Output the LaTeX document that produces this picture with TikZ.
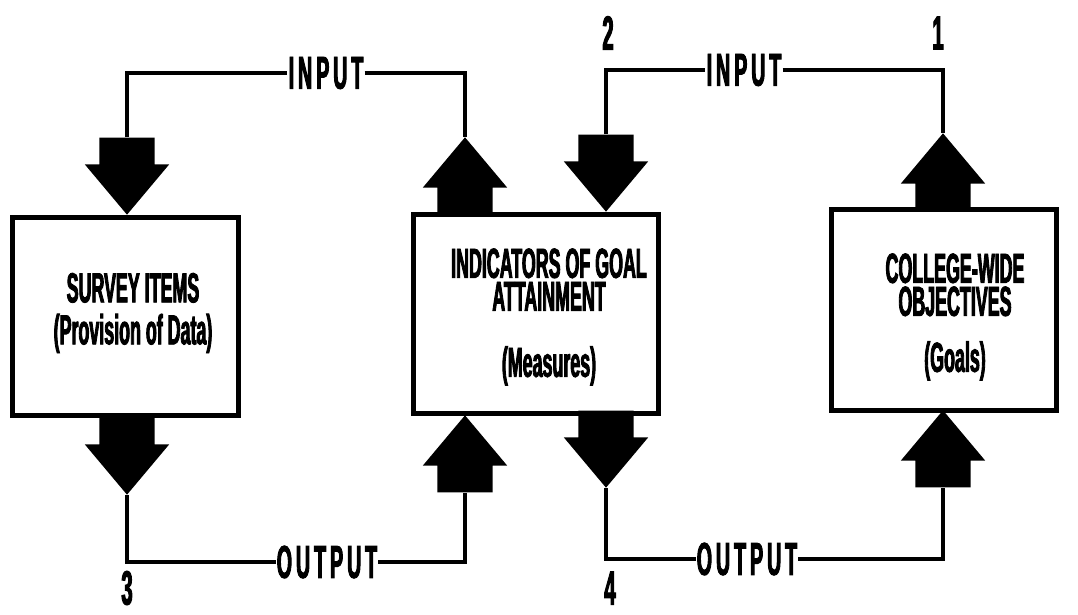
\documentclass[tikz,border=0pt]{standalone}
\usepackage{fontspec}
\newfontfamily\condfont{Liberation Sans}[FakeStretch=0.425, FakeBold=2]
\usetikzlibrary{shapes.arrows}

\begin{document}
\begin{tikzpicture}[
  x=1pt, y=-1pt,
  font=\condfont\bfseries,
  box/.style={rectangle, draw=black, line width=5pt, fill=white, inner sep=0pt},
  boxtext/.style={align=center, inner sep=0pt,
    font=\condfont\bfseries\fontsize{42}{33}\selectfont},
  blockarrow/.style={single arrow, fill=black, draw=none, inner xsep=27.5pt, inner ysep=0pt,
    minimum height=77pt, minimum width=84pt, single arrow head extend=14.5pt,
    single arrow tip angle=80, anchor=tip},
  down/.style={blockarrow, shape border rotate=270},
  up/.style={blockarrow, shape border rotate=90},
  flowlabel/.style={inner sep=1pt, font=\condfont\bfseries\fontsize{46}{46}\selectfont},
  num/.style={inner sep=0pt, font=\condfont\bfseries\fontsize{48}{48}\selectfont},
  link/.style={draw=black, line width=4pt}
]
\useasboundingbox (0,0) rectangle (1078,614);

% boxes
\node[box, minimum width=226pt, minimum height=198pt] (survey) at (125,316) {};
\node[box, minimum width=245pt, minimum height=199pt] (indic) at (535.5,313.5) {};
\node[box, minimum width=225pt, minimum height=201pt] (college) at (943.5,309.5) {};

\node[boxtext] (surveyText) at (133,313) {SURVEY ITEMS\\[9pt](Provision of Data)};
\node[boxtext] (indicText) at (549,317) {INDICATORS OF GOAL\\ATTAINMENT\\[33pt](Measures)};
\node[boxtext] (collegeText) at (955,317) {COLLEGE-WIDE\\OBJECTIVES\\[23pt](Goals)};

% block arrows (placed by their tips)
\node[down] (sIn)   at (127,215) {};
\node[down] (sOut)  at (127,495) {};
\node[up]   (iInL)  at (465,137) {};
\node[down] (iInR)  at (606,212) {};
\node[up]   (iOutL) at (465,415) {};
\node[down] (iOutR) at (606,488) {};
\node[up]   (cIn)   at (943,133) {};
\node[up]   (cOut)  at (943,410) {};

% labels
\node[flowlabel] (inL)  at (326,73)  {I\kern4pt N\kern4pt P\kern4pt U\kern4pt T};
\node[flowlabel] (inR)  at (744,70)  {I\kern4pt N\kern4pt P\kern4pt U\kern4pt T};
\node[flowlabel] (outL) at (327,562) {O\kern4pt U\kern4pt T\kern4pt P\kern4pt U\kern4pt T};
\node[flowlabel] (outR) at (747,559) {O\kern4pt U\kern4pt T\kern4pt P\kern4pt U\kern4pt T};

\node[num] (n1) at (938,33)  {1};
\node[num] (n2) at (608,33)  {2};
\node[num] (n3) at (127,588) {3};
\node[num] (n4) at (610,588) {4};

% loops
\draw[link] (sIn.tail) |- (inL.west);
\draw[link] (inL.east) -| (iInL.tip);
\draw[link] (iInR.tail) |- (inR.west);
\draw[link] (inR.east) -| (cIn.tip);
\draw[link] (sOut.tip) |- (outL.west);
\draw[link] (outL.east) -| (iOutL.tail);
\draw[link] (iOutR.tip) |- (outR.west);
\draw[link] (outR.east) -| (cOut.tail);
\end{tikzpicture}
\end{document}
